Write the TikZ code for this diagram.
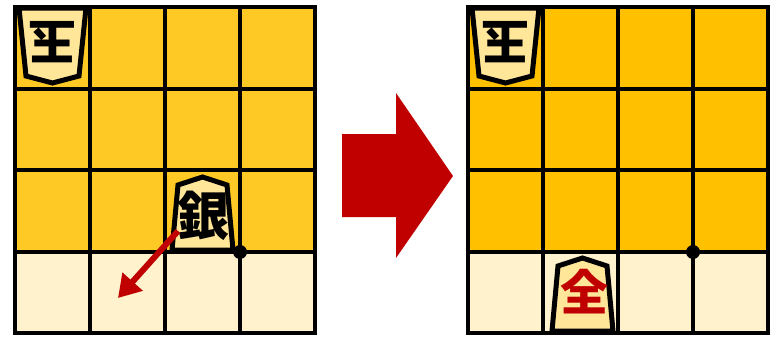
\documentclass[tikz,border=0pt]{standalone}
\usepackage{fontspec}
\newfontfamily\cjk{Noto Sans CJK JP}
\usetikzlibrary{arrows.meta}
\definecolor{yelA}{HTML}{FFC925}
\definecolor{yelB}{HTML}{FFC000}
\definecolor{lightrow}{HTML}{FFF2CC}
\definecolor{piecefill}{HTML}{FFE699}
\definecolor{redA}{HTML}{C00000}
\tikzset{
  gridline/.style={line width=4pt, black, line cap=rect},
  piece/.style={line width=5pt, black, fill=piecefill, line join=miter},
  kanji/.style={inner sep=0pt}
}
\begin{document}
\begin{tikzpicture}[x=1pt,y=-1pt]
\useasboundingbox (0,0) rectangle (784,340);
% left board
\fill[yelA] (15,7) rectangle (315,252);
\fill[lightrow] (15,252) rectangle (315,333);
\foreach \x in {15,90,165,240,315} \draw[gridline] (\x,7) -- (\x,333);
\foreach \y in {7,89,170,252,333} \draw[gridline] (15,\y) -- (315,\y);
% right board
\fill[yelB] (468,7) rectangle (768,252);
\fill[lightrow] (468,252) rectangle (768,333);
\foreach \x in {468,543,618,693,768} \draw[gridline] (\x,7) -- (\x,333);
\foreach \y in {7,89,170,252,333} \draw[gridline] (468,\y) -- (768,\y);
% kings
\draw[piece] (19,8) -- (86,8) -- (79,76) -- (52.5,83) -- (26,76) -- cycle;
\node[kanji, rotate=180, font=\cjk\bfseries\fontsize{48}{48}\selectfont] (kingL) at (52.5,42) {玉};
\draw[piece] (472,8) -- (539,8) -- (532,76) -- (505.5,83) -- (479,76) -- cycle;
\node[kanji, rotate=180, font=\cjk\bfseries\fontsize{48}{48}\selectfont] (kingR) at (505.5,42) {玉};
% silver
\draw[piece] (172,250) -- (233,250) -- (227,185) -- (202.5,177) -- (178,185) -- cycle;
\node[kanji, font=\cjk\bfseries\fontsize{52}{52}\selectfont] (silver) at (203,216) {銀};
% promoted silver
\draw[piece] (552,331) -- (613,331) -- (607,266) -- (582.5,258) -- (558,266) -- cycle;
\node[kanji, text=redA, font=\cjk\bfseries\fontsize{48}{48}\selectfont] (gold) at (584,292) {全};
% dots
\coordinate (dotL) at (240,252);
\coordinate (dotR) at (693,252);
\fill (dotL) circle[radius=7pt];
\fill (dotR) circle[radius=7pt];
% small red arrow
\coordinate (mvStart) at (178,231);
\coordinate (mvEnd) at (118,298);
\draw[redA, line width=6pt, -{Triangle[length=22pt,width=26pt]}] (mvStart) -- (mvEnd);
% big arrow
\fill[redA] (342,134) -- (396,134) -- (396,93) -- (453,176) -- (396,258) -- (396,217) -- (342,217) -- cycle;
\end{tikzpicture}
\end{document}
